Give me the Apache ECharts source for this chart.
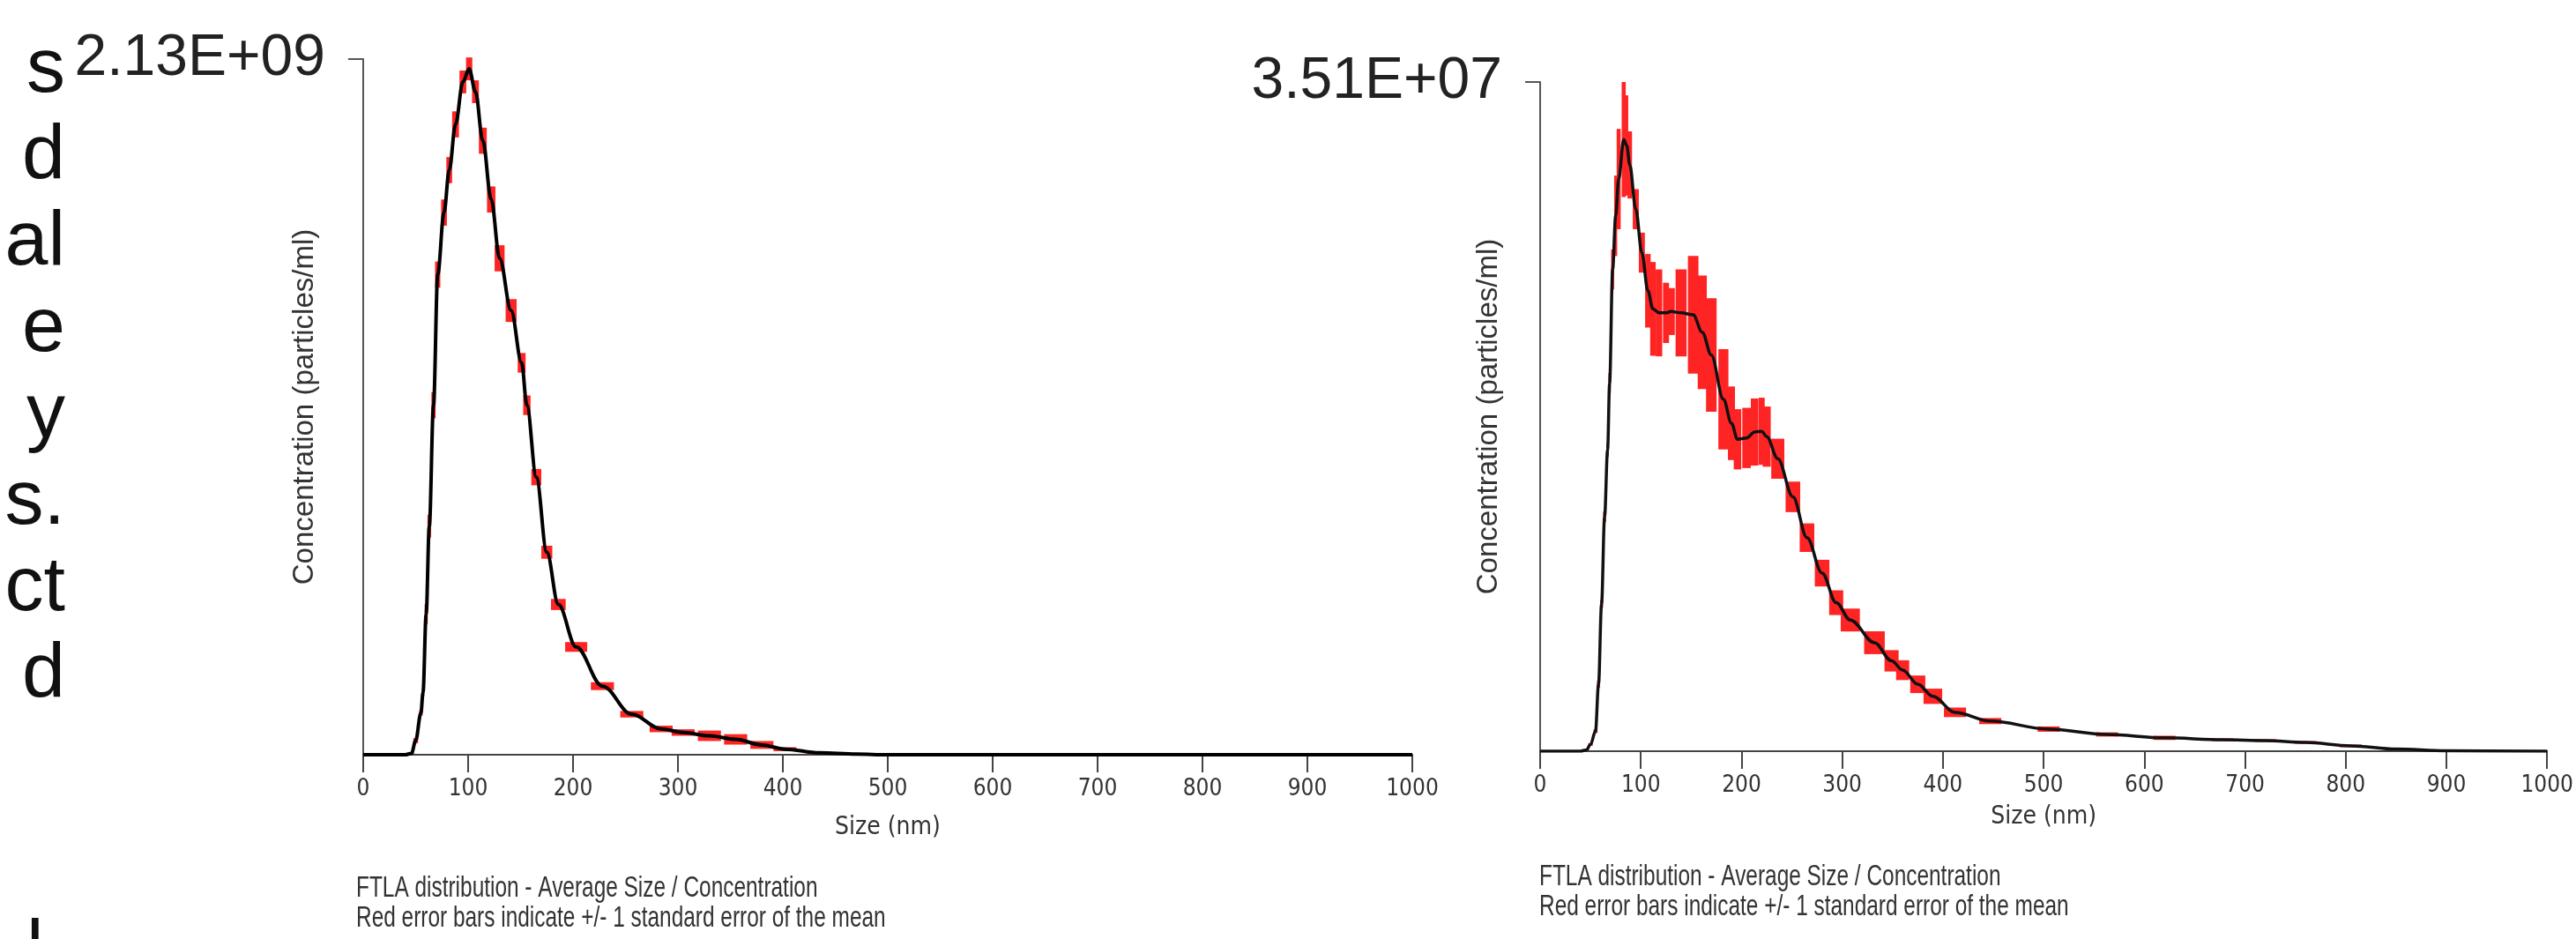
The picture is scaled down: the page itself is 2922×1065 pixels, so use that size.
<!DOCTYPE html>
<html>
<head>
<meta charset="utf-8">
<script src="https://cdn.jsdelivr.net/npm/echarts@6/dist/echarts.min.js"></script>
<style>
html, body { margin: 0; padding: 0; background: #fff; }
#chart { width: 2922px; height: 1065px; }
</style>
</head>
<body>
<div id="chart"></div>
<script>
// left panel: sizes (nm), concentration (particles/ml, x1e9), standard error (x1e9)
const leftMax = 2.13e9;
const leftSize = [0, 20, 40, 46, 50, 55, 57, 60, 63, 67, 71, 77, 82, 88, 95, 101, 107, 114, 122, 130, 141, 151, 156, 165, 175, 186, 203, 228, 256, 284, 305, 330, 355, 380, 402, 435, 470, 500, 600, 800, 1000];
const leftConcE9 = [0, 0, 0, 0.004, 0.043, 0.128, 0.19, 0.43, 0.70, 1.07, 1.47, 1.66, 1.79, 1.93, 2.06, 2.10, 2.03, 1.88, 1.70, 1.52, 1.36, 1.20, 1.07, 0.85, 0.62, 0.46, 0.33, 0.21, 0.124, 0.079, 0.068, 0.058, 0.047, 0.030, 0.017, 0.006, 0.002, 0, 0, 0, 0];
const leftErrE9 = [0, 0, 0, 0.002, 0.008, 0.008, 0.01, 0.03, 0.035, 0.04, 0.04, 0.04, 0.04, 0.04, 0.035, 0.035, 0.035, 0.04, 0.04, 0.04, 0.035, 0.03, 0.03, 0.025, 0.02, 0.017, 0.015, 0.012, 0.01, 0.01, 0.01, 0.016, 0.016, 0.012, 0.006, 0.004, 0.002, 0, 0, 0, 0];

// right panel: sizes (nm), concentration (particles/ml, x1e7), standard error (x1e7)
const rightMax = 3.51e7;
const rightSize = [0, 40, 46, 50, 55, 58, 61, 64, 67, 69, 72, 75, 78, 83, 86, 89, 95, 101, 107, 112, 118, 125, 130, 140, 152, 161, 170, 182, 190, 196, 205, 213, 220, 225, 236, 251, 265, 280, 294, 308, 332, 349, 360, 375, 390, 412, 447, 505, 563, 620, 678, 720, 760, 805, 850, 900, 1000];
const rightConcE7 = [0, 0, 0.007, 0.035, 0.105, 0.351, 0.772, 1.229, 1.580, 1.931, 2.527, 2.808, 3.001, 3.208, 3.177, 3.075, 2.843, 2.615, 2.415, 2.320, 2.299, 2.299, 2.306, 2.299, 2.289, 2.197, 2.078, 1.846, 1.720, 1.636, 1.643, 1.674, 1.678, 1.650, 1.534, 1.334, 1.120, 0.934, 0.779, 0.688, 0.569, 0.474, 0.425, 0.351, 0.288, 0.204, 0.158, 0.116, 0.088, 0.070, 0.060, 0.056, 0.046, 0.028, 0.011, 0.002, 0];
const rightErrE7 = [0, 0, 0.004, 0.007, 0.01, 0.018, 0.021, 0.028, 0.035, 0.053, 0.105, 0.211, 0.263, 0.302, 0.263, 0.176, 0.105, 0.105, 0.193, 0.246, 0.228, 0.158, 0.123, 0.228, 0.309, 0.298, 0.298, 0.263, 0.193, 0.158, 0.158, 0.176, 0.176, 0.158, 0.105, 0.080, 0.075, 0.070, 0.065, 0.060, 0.060, 0.056, 0.052, 0.046, 0.040, 0.025, 0.016, 0.014, 0.011, 0.011, 0.007, 0.007, 0.007, 0.007, 0.004, 0, 0];

const xTicks = [0, 100, 200, 300, 400, 500, 600, 700, 800, 900, 1000];

// words cut off at the left edge of the slide (one per line)
const slideWords = ['s', 'd', 'al', 'e', 'y', 's.', 'ct', 'd'];

const captionLines = [
  'FTLA distribution - Average Size / Concentration',
  'Red error bars indicate +/- 1 standard error of the mean'
];

const sans = '"Liberation Sans", Arial, sans-serif';
const narrow = '"DejaVu Sans Condensed", "Liberation Sans", sans-serif';

function sci(v) {
  const parts = v.toExponential(2).split('e');
  const sign = parts[1][0];
  const exp = parts[1].slice(1).padStart(2, '0');
  return parts[0] + 'E' + sign + exp;
}

function points(size, conc, scale) {
  return size.map((s, i) => [s, conc[i] * scale]);
}

// error bar cells: [size, low, high, width]
function errorBars(size, conc, err, scale) {
  return size.map((s, i) => {
    const prev = i > 0 ? size[i - 1] : s;
    const next = i < size.length - 1 ? size[i + 1] : s;
    const w = Math.min((next - prev) / 2, 22);
    return [s, (conc[i] - err[i]) * scale, (conc[i] + err[i]) * scale, w];
  }).filter(d => d[2] > d[1]);
}

function renderError(params, api) {
  const x = api.value(0);
  const w = api.value(3);
  const p1 = api.coord([x - w / 2, api.value(2)]);
  const p2 = api.coord([x + w / 2, api.value(1)]);
  return {
    type: 'rect',
    shape: { x: p1[0], y: p1[1], width: Math.max(p2[0] - p1[0], 1), height: p2[1] - p1[1] },
    style: { fill: '#ff2424' }
  };
}

function xAxisFor(gridIndex, nameGap) {
  return {
    type: 'value',
    gridIndex: gridIndex,
    min: 0,
    max: 1000,
    interval: 100,
    name: 'Size (nm)',
    nameLocation: 'middle',
    nameGap: nameGap,
    nameMoveOverlap: false,
    nameTextStyle: { fontFamily: narrow, fontSize: 28, color: '#333' },
    splitLine: { show: false },
    axisLine: { lineStyle: { color: '#444', width: 2 } },
    axisTick: { length: 20, lineStyle: { color: '#444', width: 2 } },
    axisLabel: {
      fontFamily: narrow, fontSize: 26, color: '#333', margin: 26,
      showMinLabel: true, showMaxLabel: true, hideOverlap: false,
      customValues: xTicks,
      formatter: v => String(v)
    }
  };
}

function yAxisFor(gridIndex, max, nameGap, pad) {
  return {
    type: 'value',
    gridIndex: gridIndex,
    min: 0,
    max: max,
    name: 'Concentration (particles/ml)',
    nameLocation: 'middle',
    nameGap: nameGap,
    nameMoveOverlap: false,
    nameTextStyle: { fontFamily: sans, fontSize: 33, color: '#333' },
    splitLine: { show: false },
    axisLine: { show: true, lineStyle: { color: '#555', width: 2 } },
    axisTick: { show: true, length: 17, customValues: [max], lineStyle: { color: '#555', width: 2 } },
    axisLabel: {
      customValues: [max],
      formatter: sci,
      fontFamily: sans, fontSize: 66, color: '#222', margin: 43,
      padding: pad
    }
  };
}

const chart = echarts.init(document.getElementById('chart'), null, { renderer: 'canvas' });

const graphics = [];
slideWords.forEach((w, i) => {
  graphics.push({
    type: 'text', x: 74, y: 80 + i * 98,
    style: { text: w, fill: '#111', font: '88px ' + sans, textAlign: 'right', textVerticalAlign: 'middle' }
  });
});
// last line, mostly below the bottom edge
graphics.push({
  type: 'text', x: 74, y: 1080,
  style: { text: 'l.', fill: '#111', font: '88px ' + sans, textAlign: 'right', textVerticalAlign: 'middle' }
});
[[404, 1008], [1746, 995]].forEach(([x, y]) => {
  captionLines.forEach((t, i) => {
    graphics.push({
      type: 'text', x: x, y: y + i * 34, scaleX: 0.74,
      style: { text: t, fill: '#333', font: '33px ' + sans, textAlign: 'left', textVerticalAlign: 'middle' }
    });
  });
});

chart.setOption({
  backgroundColor: '#fff',
  animation: false,
  grid: [
    { left: 412, top: 67, width: 1190, height: 789 },
    { left: 1747, top: 93, width: 1155, height: 759 }
  ],
  xAxis: [xAxisFor(0, 69), xAxisFor(1, 61)],
  yAxis: [yAxisFor(0, leftMax, 50, [30, 0, 0, 0]), yAxisFor(1, rightMax, 42, [0, 0, 10, 0])],
  graphic: graphics,
  series: [
    {
      type: 'custom', xAxisIndex: 0, yAxisIndex: 0,
      renderItem: renderError,
      encode: { x: 0, y: [1, 2] },
      data: errorBars(leftSize, leftConcE9, leftErrE9, 1e9),
      z: 1
    },
    {
      type: 'line', xAxisIndex: 0, yAxisIndex: 0,
      data: points(leftSize, leftConcE9, 1e9),
      smooth: 0.35, smoothMonotone: 'x', showSymbol: false,
      lineStyle: { color: '#000', width: 4 },
      z: 3
    },
    {
      type: 'custom', xAxisIndex: 1, yAxisIndex: 1,
      renderItem: renderError,
      encode: { x: 0, y: [1, 2] },
      data: errorBars(rightSize, rightConcE7, rightErrE7, 1e7),
      z: 1
    },
    {
      type: 'line', xAxisIndex: 1, yAxisIndex: 1,
      data: points(rightSize, rightConcE7, 1e7),
      smooth: 0.35, smoothMonotone: 'x', showSymbol: false,
      lineStyle: { color: '#111', width: 3.5 },
      z: 3
    }
  ]
});
</script>
</body>
</html>
